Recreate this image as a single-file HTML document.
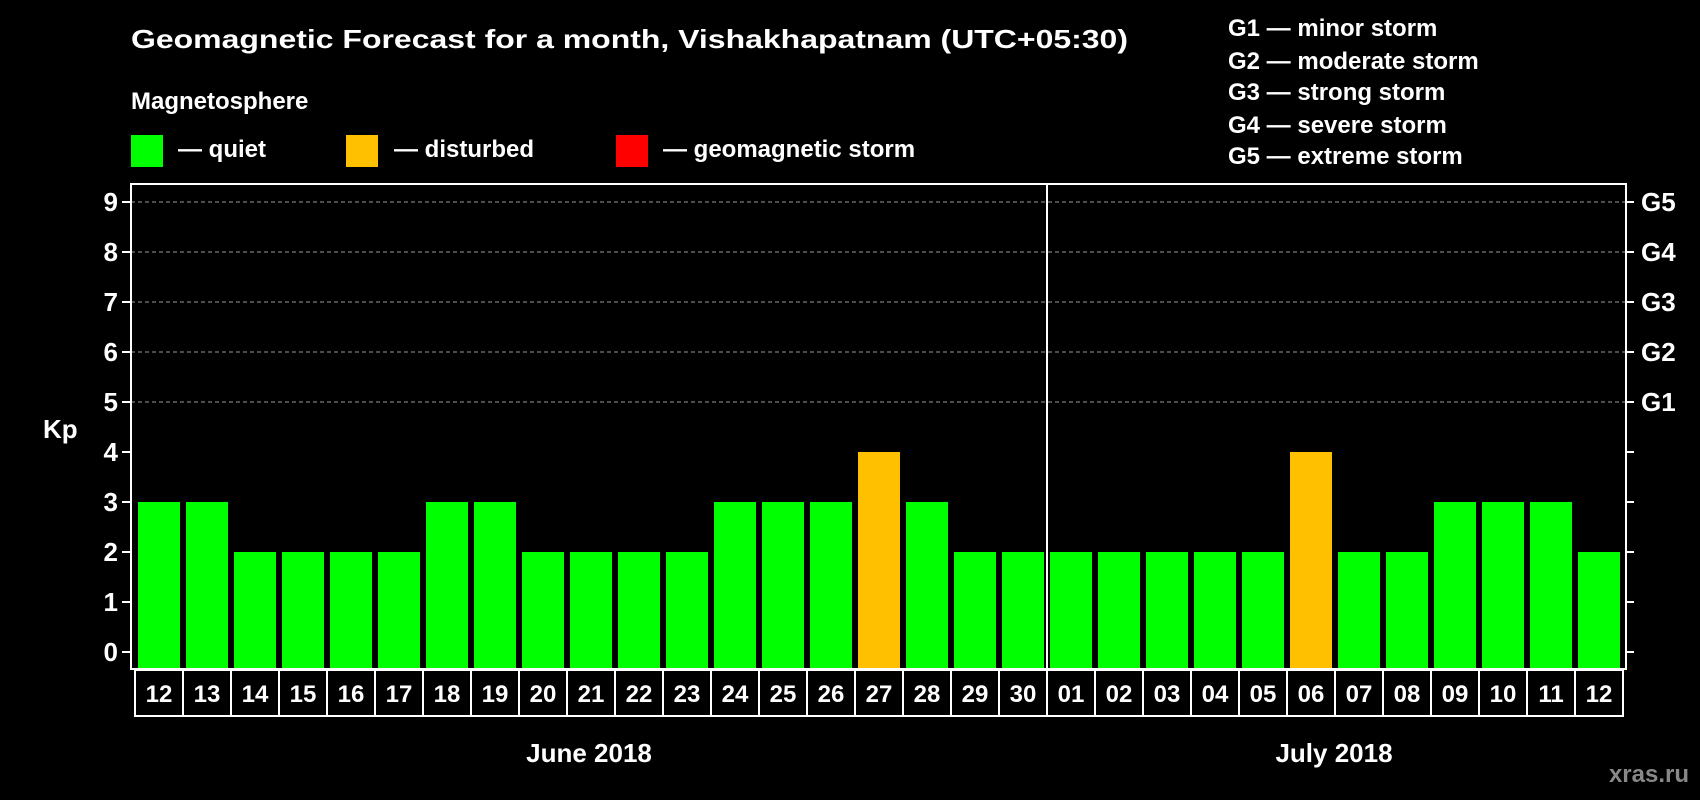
<!DOCTYPE html>
<html><head><meta charset="utf-8"><style>
html,body{margin:0;padding:0;background:#000;}
svg{display:block;font-family:"Liberation Sans",Arial,sans-serif;font-weight:bold;}
</style></head><body>
<svg id="chart" width="1700" height="800" viewBox="0 0 1700 800">
<rect x="0" y="0" width="1700" height="800" fill="#000"/>
<text x="131" y="48" font-size="26" fill="#fff" textLength="997" lengthAdjust="spacingAndGlyphs">Geomagnetic Forecast for a month, Vishakhapatnam (UTC+05:30)</text>
<text x="131" y="109" font-size="24" fill="#fff">Magnetosphere</text>
<g>
<rect x="131" y="135" width="32" height="32" fill="#00ff00"/>
<text x="178" y="157" font-size="24" fill="#fff">— quiet</text></g>
<g>
<rect x="346" y="135" width="32" height="32" fill="#ffc000"/>
<text x="394" y="157" font-size="24" fill="#fff">— disturbed</text></g>
<g>
<rect x="616" y="135" width="32" height="32" fill="#ff0000"/>
<text x="663" y="157" font-size="24" fill="#fff">— geomagnetic storm</text></g>
<g font-size="24" fill="#fff">
<text x="1228" y="36">G1 — minor storm</text>
<text x="1228" y="69">G2 — moderate storm</text>
<text x="1228" y="100">G3 — strong storm</text>
<text x="1228" y="133">G4 — severe storm</text>
<text x="1228" y="164">G5 — extreme storm</text>
</g>
<text x="43" y="438" font-size="26" fill="#fff">Kp</text>
<text x="589" y="762" font-size="26" fill="#fff" text-anchor="middle">June 2018</text>
<text x="1334" y="762" font-size="26" fill="#fff" text-anchor="middle">July 2018</text>
<text x="1689" y="782" font-size="24" fill="#888" text-anchor="end">xras.ru</text>
<g id="plot"></g>
</svg>
<script>
const days = ["12","13","14","15","16","17","18","19","20","21","22","23","24","25","26","27","28","29","30","01","02","03","04","05","06","07","08","09","10","11","12"];
const kpValues = [3,3,2,2,2,2,3,3,2,2,2,2,3,3,3,4,3,2,2,2,2,2,2,2,4,2,2,3,3,3,2];
const yTicks = [0,1,2,3,4,5,6,7,8,9];
const gLabels = ["G1","G2","G3","G4","G5"];
const gLevels = [5,6,7,8,9];
const monthBreakIndex = 19;

const NS = "http://www.w3.org/2000/svg";
const plot = document.getElementById("plot");
const L = 131, R = 1626, T = 184, B = 669;
const Y0 = 652, unit = 50;
const step = 48, barW = 42, barOff = 7;
const y = v => Y0 - v * unit;
const xSlot = i => L + barOff + i * step;
function mk(tag, attrs){ const e = document.createElementNS(NS, tag); for (const k in attrs) e.setAttribute(k, attrs[k]); plot.appendChild(e); return e; }

// gridlines
gLevels.forEach(v => {
  const g = mk("line", {x1: L, x2: R, y1: y(v), y2: y(v), stroke: "#999", "stroke-width": 1, "stroke-dasharray": "4,3"});
  
  
});
// bars
kpValues.forEach((v, i) => {
  const color = v >= 5 ? "#ff0000" : (v >= 4 ? "#ffc000" : "#00ff00");
  const b = mk("rect", {x: xSlot(i), y: y(v), width: barW, height: B - y(v), fill: color});
  
  
});
// frame
const f = mk("rect", {x: L, y: T, width: R - L, height: B - T, fill: "none", stroke: "#fff", "stroke-width": 2});


const sepX = xSlot(monthBreakIndex) - 3;
const sep = mk("line", {x1: sepX, x2: sepX, y1: T, y2: B, stroke: "#fff", "stroke-width": 2});


// y ticks
yTicks.forEach(v => {
  const t = mk("line", {x1: L - 9, x2: L, y1: y(v), y2: y(v), stroke: "#fff", "stroke-width": 2});
  
  
  const t2 = mk("line", {x1: R, x2: R + 8, y1: y(v), y2: y(v), stroke: "#fff", "stroke-width": 2});
  
  
  const l = mk("text", {x: 118, y: y(v) + 9, "font-size": 26, fill: "#fff", "text-anchor": "end"});
  l.textContent = v;
  
  
});
gLabels.forEach((g, i) => {
  const l = mk("text", {x: 1641, y: y(gLevels[i]) + 9, "font-size": 26, fill: "#fff"});
  l.textContent = g;
  
  
});
// day boxes
days.forEach((d, i) => {
  const bx = L + 4 + i * step;
  const r = mk("rect", {x: bx, y: B + 1, width: step, height: 46, fill: "none", stroke: "#fff", "stroke-width": 2});
  
  
  const t = mk("text", {x: bx + step / 2, y: B + 33, "font-size": 24, fill: "#fff", "text-anchor": "middle"});
  t.textContent = d;
  
  
});
</script>
</body></html>
